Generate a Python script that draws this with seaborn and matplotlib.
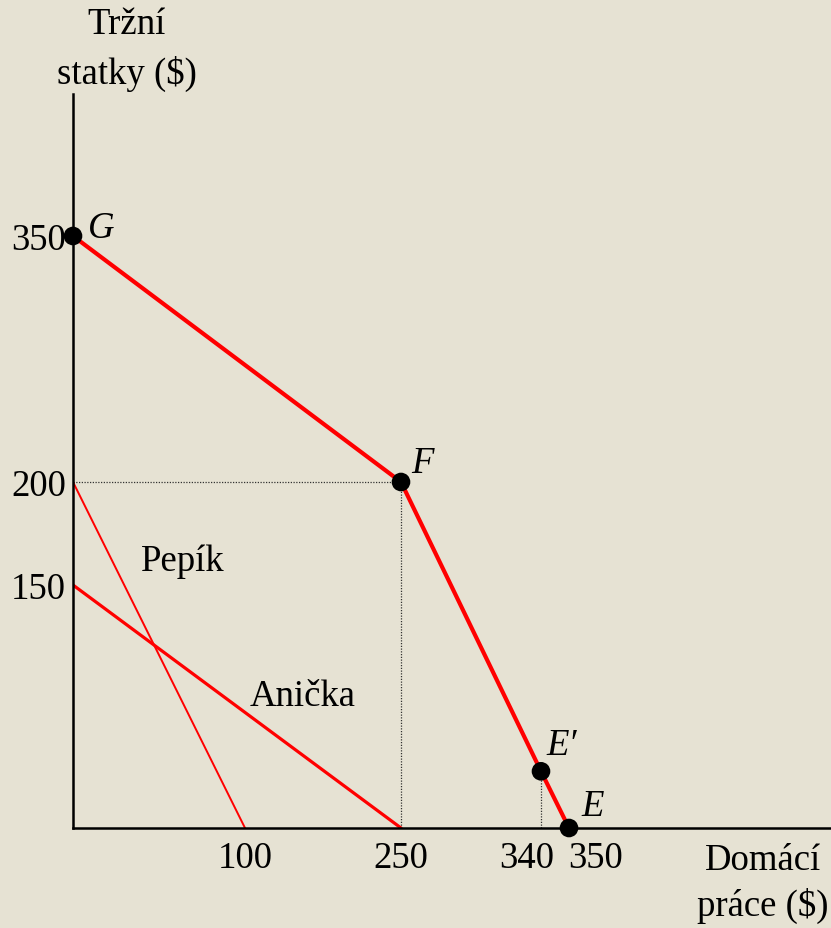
import numpy as np
import pandas as pd
import matplotlib.pyplot as plt
import seaborn as sns

# hodnoty
hranice_x = [0, 250, 340, 350]
hranice_y = [350, 200, 35, 0]
body = ["G", "F", "E′", "E"]
pepik_x = [0, 100]
pepik_y = [200, 0]
anicka_x = [0, 250]
anicka_y = [150, 0]
xticks = [100, 250, 340, 350]
yticks = [150, 200, 350]

# obrázek není v měřítku -> po částech lineární škála (hodnota -> pixel)
x_hod = [-1000, 0, 100, 250, 340, 350, 450, 10000]
x_pix = [-1720, 0, 172, 328, 468, 496, 758, 26000]
y_hod = [-1000, 0, 150, 200, 350, 437, 10000]
y_pix = [-1620, 0, 243, 346, 592, 734, 16000]


def fx(v):
    return np.interp(v, x_hod, x_pix)


def fx_inv(p):
    return np.interp(p, x_pix, x_hod)


def fy(v):
    return np.interp(v, y_hod, y_pix)


def fy_inv(p):
    return np.interp(p, y_pix, y_hod)


sns.set_theme(style="white")
plt.rcParams["font.family"] = ["Liberation Serif", "DejaVu Serif"]
plt.rcParams["text.color"] = "black"
plt.rcParams["ytick.labelcolor"] = "black"
bg = "#e6e2d3"
fs = 26.5

fig = plt.figure(figsize=(8.31, 9.29), dpi=100, facecolor=bg)
ax = fig.add_axes([73 / 831, 100 / 929, 758 / 831, 734 / 929])
ax.set_facecolor(bg)
ax.set_xscale("function", functions=(fx, fx_inv))
ax.set_yscale("function", functions=(fy, fy_inv))

# tečkované pomocné čáry
dot = dict(color="#333333", lw=0.9, ls=(0, (1, 1.2)))
ax.plot([0, hranice_x[1]], [hranice_y[1], hranice_y[1]], **dot)
ax.plot([hranice_x[1], hranice_x[1]], [0, hranice_y[1]], **dot)
ax.plot([hranice_x[2], hranice_x[2]], [0, hranice_y[2]], **dot)

# hranice možností jednotlivců
sns.lineplot(x=pepik_x, y=pepik_y, color="red", lw=1.4, ax=ax)
sns.lineplot(x=anicka_x, y=anicka_y, color="red", lw=2.3, ax=ax)

# společná hranice
df = pd.DataFrame({"x": hranice_x, "y": hranice_y, "bod": body})
sns.lineplot(data=df, x="x", y="y", color="red", lw=3.0, sort=False,
             estimator=None, ax=ax)
sns.scatterplot(data=df, x="x", y="y", color="black", s=180, zorder=5,
                edgecolor="none", ax=ax, clip_on=False)

offs = {"G": (11, 6), "F": (7, 14), "E′": (4, 19), "E": (9, 16)}
for _, r in df.iterrows():
    ax.annotate(r["bod"], (r["x"], r["y"]), xytext=offs[r["bod"]],
                textcoords="offset points", ha="left", va="center",
                fontsize=fs, style="italic")

ax.set_xlim(0, 450)
ax.set_ylim(0, 437)

# popisky os x (posunuté jako v předloze)
x_off = {100: 0, 250: 0, 340: -10, 350: 19}
for v in xticks:
    ax.annotate(str(v), (v, 0), xytext=(x_off[v], -9),
                textcoords="offset points", ha="center", va="top",
                fontsize=fs, annotation_clip=False)

ax.set_xticks([])
ax.set_yticks(yticks)
ax.set_yticklabels([str(v) for v in yticks], fontsize=fs)
ax.tick_params(axis="y", length=0, pad=5)
ax.set_xlabel("")
ax.set_ylabel("")

for s in ["top", "right"]:
    ax.spines[s].set_visible(False)
for s in ["left", "bottom"]:
    ax.spines[s].set_color("black")
    ax.spines[s].set_linewidth(1.8)

fig.text(183 / 831, 1 - 562 / 929, "Pepík", fontsize=fs, ha="center", va="center")
fig.text(303 / 831, 1 - 697 / 929, "Anička", fontsize=fs, ha="center", va="center")
fig.text(127 / 831, 1 - 50 / 929, "Tržní\nstatky ($)", fontsize=fs,
         ha="center", va="center", linespacing=1.5)
fig.text(763 / 831, 1 - 884 / 929, "Domácí\npráce ($)", fontsize=fs,
         ha="center", va="center", linespacing=1.35)

fig.savefig("out.png", dpi=100, facecolor=bg)
